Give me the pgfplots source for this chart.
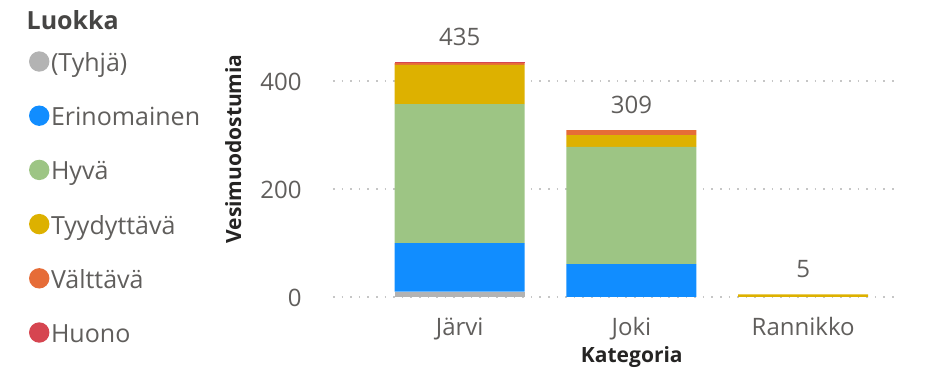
\documentclass[border=0pt]{standalone}
\usepackage{fontspec}
\setmainfont{Open Sans}
\usepackage{pgfplots}
\pgfplotsset{compat=1.18}
\definecolor{cGray}{HTML}{B3B3B3}
\definecolor{cBlue}{HTML}{118DFF}
\definecolor{cGreen}{HTML}{9DC584}
\definecolor{cYellow}{HTML}{DDB100}
\definecolor{cOrange}{HTML}{E66C37}
\definecolor{cRed}{HTML}{D64550}
\definecolor{tickgray}{HTML}{605E5C}
\definecolor{darkt}{HTML}{252423}
\pgfplotsset{
  geom/.style={scale only axis, width=283.5pt, height=128.5pt,
    xmin=-0.738, xmax=2.564, ymin=0, ymax=476, clip=false},
}
\begin{document}
\begin{tikzpicture}
\begin{axis}[
  geom,
  ybar stacked, bar width=65pt,
  xtick={0,1,2}, xticklabels={Järvi,Joki,Rannikko},
  ytick={0,200,400},
  axis line style={draw=none}, major tick length=0pt,
  ymajorgrids, grid style={gray!45, dash pattern=on 0.8pt off 3.5pt, line width=0.7pt},
  /pgf/number format/assume math mode=true,
  ticklabel style={font=\fontsize{12}{14}\selectfont, text=tickgray},
  yticklabel style={anchor=mid east, inner sep=0pt, xshift=-15.5pt, yshift=-2.3pt},
  xticklabel style={anchor=base, inner sep=0pt, yshift=-19.5pt},
  xlabel={Kategoria},
  xlabel style={at={(axis description cs:0.527,-0.233)}, anchor=center, font=\bfseries\fontsize{10.5}{12}\selectfont, text=darkt},
  ylabel={Vesimuodostumia},
  ylabel style={at={(axis description cs:-0.176,0.576)}, anchor=center, font=\bfseries\fontsize{10.5}{12}\selectfont, text=darkt},
  legend image code/.code={\path[draw=none, fill=none] (0pt,0pt) rectangle (10.5pt,1pt);\fill[#1, overlay] (4.6pt,2.2pt) circle (5.1pt);},
  legend cell align=left,
  legend style={at={(axis description cs:-0.535,0.9416)}, anchor=north west, draw=none, fill=none,
    font=\fontsize{12.5}{14}\selectfont, text=tickgray, row sep=16.6pt, inner sep=0pt,
    nodes={inner sep=0pt, text height=8pt, text depth=2.5pt}},
]
\addplot[fill=cGray, draw=none] coordinates {(0,10) (1,0) (2,0)};
\addlegendentry{(Tyhjä)}
\addplot[fill=cBlue, draw=none] coordinates {(0,90) (1,61) (2,0)};
\addlegendentry{Erinomainen}
\addplot[fill=cGreen, draw=none] coordinates {(0,257) (1,217) (2,0)};
\addlegendentry{Hyvä}
\addplot[fill=cYellow, draw=none] coordinates {(0,73) (1,22) (2,5)};
\addlegendentry{Tyydyttävä}
\addplot[fill=cOrange, draw=none] coordinates {(0,3) (1,9) (2,0)};
\addlegendentry{Välttävä}
\addplot[fill=cRed, draw=none] coordinates {(0,2) (1,0) (2,0)};
\addlegendentry{Huono}
\node[anchor=base west, inner sep=0pt, font=\bfseries\fontsize{12.5}{14}\selectfont, text=darkt!85] at (axis description cs:-0.541,1.039) {Luokka};
\path (axis description cs:-0.5873,1.1556) rectangle (axis description cs:1.0811,-0.2957);
\end{axis}
\begin{axis}[geom, hide axis]
\addplot[draw=none, nodes near coords, point meta=explicit symbolic,
  every node near coord/.append style={anchor=base, yshift=8.5pt, font=\fontsize{12}{14}\selectfont, text=tickgray}]
  coordinates {(0,435) [435] (1,309) [309] (2,5) [5]};
\end{axis}
\end{tikzpicture}
\end{document}
